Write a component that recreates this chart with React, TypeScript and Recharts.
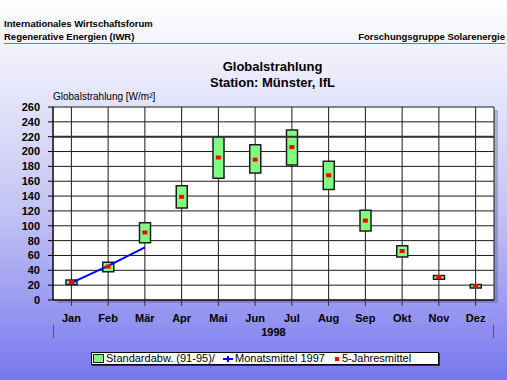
import React from 'react';
import { ComposedChart, Bar, Line, XAxis, YAxis, CartesianGrid, ReferenceLine } from 'recharts';

const months = ['Jan', 'Feb', 'Mär', 'Apr', 'Mai', 'Jun', 'Jul', 'Aug', 'Sep', 'Okt', 'Nov', 'Dez'];
const sdLow = [21, 38, 77, 124, 164, 171, 182, 149, 93, 58, 28, 16];
const sdHigh = [27, 51, 104, 154, 220, 209, 229, 187, 121, 73, 33, 21];
const mean5 = [24, 45, 91, 139, 192, 189, 206, 168, 107, 66, 31, 19];
const mean1997 = [23, 46, 71];
const yTicks = [0, 20, 40, 60, 80, 100, 120, 140, 160, 180, 200, 220, 240, 260];

const data = months.map((m, i) => ({
  month: m,
  base: sdLow[i],
  span: sdHigh[i] - sdLow[i],
  mean5: mean5[i],
  m1997: i < mean1997.length ? mean1997[i] : null,
}));

const font = '"Liberation Sans", Arial, sans-serif';

const RedSquare = (props: any) => {
  const { cx, cy } = props;
  if (cx == null || cy == null) return null;
  return <rect x={cx - 2.5} y={cy - 2} width={5} height={4} fill="#ff0000" />;
};

const abs = (s: React.CSSProperties): React.CSSProperties => ({ position: 'absolute', ...s });

export default function App() {
  return (
    <div
      style={{
        position: 'absolute',
        left: 0,
        top: 0,
        width: 507,
        height: 380,
        overflow: 'hidden',
        fontFamily: font,
        color: '#000',
        background: 'linear-gradient(#ffffff 0%, #e8e8fb 22%, #c4c4f4 55%, #9a9af2 80%, #7676ee 100%)',
      }}
    >
      {/* header */}
      <div style={abs({ left: 4, top: 18, fontSize: 9.5, fontWeight: 'bold', lineHeight: '12.5px' })}>
        Internationales Wirtschaftsforum
        <br />
        Regenerative Energien (IWR)
      </div>
      <div style={abs({ right: 2, top: 30.5, fontSize: 9.5, fontWeight: 'bold', lineHeight: '12.5px' })}>
        Forschungsgruppe Solarenergie
      </div>
      <div style={abs({ left: 4, top: 43, width: 501, height: 1, background: '#f04858' })} />

      {/* title */}
      <div style={abs({ left: 0, top: 59, width: 545, textAlign: 'center', fontSize: 13, fontWeight: 'bold', lineHeight: '16px' })}>
        Globalstrahlung
        <br />
        Station: Münster, IfL
      </div>
      <div style={abs({ left: 53, top: 91, fontSize: 10, lineHeight: '12px' })}>Globalstrahlung [W/m²]</div>

      {/* plot shadow */}
      <div style={abs({ left: 57, top: 110, width: 441, height: 193, background: 'rgba(70,70,110,0.3)' })} />

      <div style={abs({ left: 0, top: 0 })}>
        <ComposedChart width={507} height={380} data={data} margin={{ top: 107, right: 13, bottom: 50, left: 0 }}>
          <CartesianGrid stroke="#1a1a1a" strokeWidth={1} fill="#ffffff" fillOpacity={1} />
          <XAxis
            dataKey="month"
            height={30}
            tickSize={6}
            tickMargin={8}
            axisLine={{ stroke: '#000' }}
            tickLine={{ stroke: '#333' }}
            tick={{ fill: '#000', fontSize: 11, fontWeight: 'bold', fontFamily: font }}
            interval={0}
          />
          <YAxis
            width={53}
            domain={[0, 260]}
            ticks={yTicks}
            interval={0}
            tickSize={5}
            tickMargin={8}
            axisLine={{ stroke: '#000' }}
            tickLine={{ stroke: '#000' }}
            tick={{ fill: '#000', fontSize: 11, fontWeight: 'bold', fontFamily: font }}
          />
          <YAxis yAxisId="r" orientation="right" width={0} tick={false} tickLine={false} axisLine={{ stroke: '#000', strokeWidth: 1.5 }} />
          <ReferenceLine y={220} stroke="#333" strokeWidth={2} />
          <Bar dataKey="base" stackId="sd" fill="transparent" barSize={11} isAnimationActive={false} />
          <Bar dataKey="span" stackId="sd" fill="#80ff80" stroke="#1c1c1c" strokeWidth={1.5} barSize={11} isAnimationActive={false} />
          <Line dataKey="m1997" stroke="#0000ff" strokeWidth={2} dot={false} connectNulls={false} isAnimationActive={false} />
          <Line dataKey="mean5" stroke="none" dot={<RedSquare />} activeDot={false} isAnimationActive={false} />
        </ComposedChart>
      </div>

      {/* multi-level axis group */}
      <div style={abs({ left: 53, top: 325, width: 1, height: 13, background: '#555' })} />
      <div style={abs({ left: 493, top: 325, width: 1, height: 13, background: '#555' })} />
      <div style={abs({ left: 53, top: 326, width: 441, textAlign: 'center', fontSize: 11, fontWeight: 'bold', lineHeight: '12px' })}>1998</div>

      {/* legend */}
      <div
        style={abs({
          left: 91,
          top: 352,
          width: 346,
          height: 11,
          background: '#fff',
          border: '1px solid #000',
          boxShadow: '1px 1px 0 #333',
          fontSize: 11,
          lineHeight: '11px',
        })}
      >
        <div style={abs({ left: 1, top: 1, width: 9, height: 7, background: '#80ff80', border: '1px solid #1c1c1c' })} />
        <div style={abs({ left: 14, top: 0 })}>Standardabw. (91-95)/</div>
        <div style={abs({ left: 131, top: 5, width: 10, height: 2, background: '#0000ff' })} />
        <div style={abs({ left: 135, top: 3, width: 2, height: 6, background: '#0000ff' })} />
        <div style={abs({ left: 143, top: 0 })}>Monatsmittel 1997</div>
        <div style={abs({ left: 243, top: 4, width: 4, height: 4, background: '#ff0000' })} />
        <div style={abs({ left: 250, top: 0 })}>5-Jahresmittel</div>
      </div>
    </div>
  );
}
